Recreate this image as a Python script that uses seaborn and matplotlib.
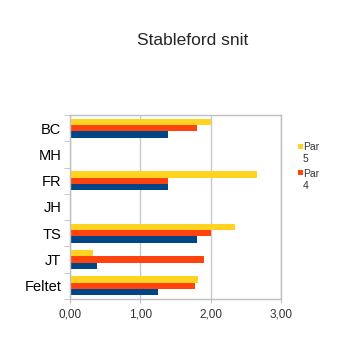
import matplotlib
matplotlib.use("Agg")
import matplotlib.pyplot as plt
import seaborn as sns
import pandas as pd
import numpy as np
from matplotlib.ticker import FixedLocator, FuncFormatter
from matplotlib.patches import Rectangle

players = ["BC", "MH", "FR", "JH", "TS", "JT", "Feltet"]
par5 = [2.00, np.nan, 2.66, np.nan, 2.34, 0.33, 1.82]
par4 = [1.80, np.nan, 1.40, np.nan, 2.00, 1.90, 1.77]
par3 = [1.40, np.nan, 1.40, np.nan, 1.80, 0.39, 1.25]
series = ["Par 5", "Par 4", "Par 3"]
colors = ["#FFD320", "#FF420E", "#004586"]
legend_labels = ["Par\n5", "Par\n4"]

rows = []
for s, vals in zip(series, [par5, par4, par3]):
    for p, v in zip(players, vals):
        rows.append({"player": p, "series": s, "value": v})
df = pd.DataFrame(rows)

sns.set_style("white")
plt.rcParams['font.family'] = ['Liberation Sans', 'DejaVu Sans']

W, H = 352, 339
fig = plt.figure(figsize=(W / 100, H / 100), dpi=100)
ax = fig.add_axes([0.198, 0.118, 0.601, 0.543])
sns.barplot(data=df, y="player", x="value", hue="series", order=players,
            hue_order=series, palette=colors, orient="h", width=0.72,
            gap=0, ax=ax, legend=False, errorbar=None, saturation=1,
            linewidth=0)

ax.set_xlim(0, 3)
ax.set_ylim(len(players) - 0.5, -0.5)
ax.set_xticks([0, 1, 2, 3])
ax.xaxis.set_major_formatter(FuncFormatter(lambda v, p: f"{v:.2f}".replace(".", ",")))
ax.grid(axis="x", color="#c8c8c8", linewidth=1)
ax.set_axisbelow(True)
ax.set_xlabel("")
ax.set_ylabel("")
for sp in ax.spines.values():
    sp.set_color("#c0c0c0")
    sp.set_linewidth(1)
ax.tick_params(axis="x", labelsize=8.5, colors="#333333", length=3, color="#c0c0c0", bottom=True, pad=4)
ax.tick_params(axis="y", labelsize=10.5, colors="black", length=0, pad=6)
ax.yaxis.set_minor_locator(FixedLocator(np.arange(-0.5, len(players), 1)))
ax.tick_params(axis="y", which="minor", length=4, color="#c0c0c0", left=True)

fig.text(0.548, 0.882, "Stableford snit", ha="center", va="center", fontsize=12.5)

# legend (series Par 5 and Par 4)
for i, (lab, col) in enumerate(zip(legend_labels, colors[:2])):
    ytop = 143 + i * 26.5
    fig.add_artist(Rectangle((298 / W, 1 - (ytop + 5.5) / H), 4.5 / W, 4.5 / H,
                             transform=fig.transFigure, color=col, lw=0))
    fig.text(303 / W, 1 - (ytop - 1) / H, lab, ha="left", va="top",
             fontsize=7.5, color="#333333", linespacing=1.25)

fig.savefig("out.png", dpi=100)
